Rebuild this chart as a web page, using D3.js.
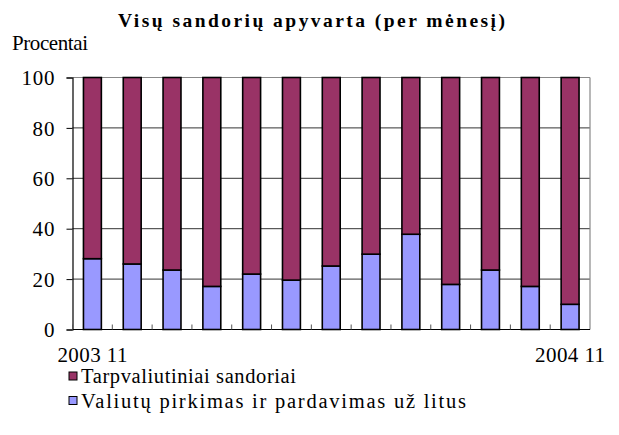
<!DOCTYPE html>
<html><head><meta charset="utf-8">
<script src="https://cdn.jsdelivr.net/npm/d3@7"></script>
<style>body{margin:0;background:#fff}svg{display:block}</style>
</head><body>
<script>
const months = ["2003 11","2003 12","2004 01","2004 02","2004 03","2004 04","2004 05","2004 06","2004 07","2004 08","2004 09","2004 10","2004 11"];
const valiutuPirkimas = [28.1, 26.0, 23.6, 17.1, 22.0, 19.6, 25.2, 29.9, 37.8, 17.9, 23.6, 17.1, 10.0];
const tarpvaliutiniai = valiutuPirkimas.map(v => 100 - v);
const yTicks = [0, 20, 40, 60, 80, 100];
const xLabels = ["2003 11", "2004 11"];
const seriesNames = ["Tarpvaliutiniai sandoriai", "Valiutų pirkimas ir pardavimas už litus"];
const colors = ["#993366", "#9999FF"];

(function () {
const FONT = "'Liberation Serif', 'Times New Roman', serif";
const W = 619, H = 435;
const svg = d3.select("body").append("svg").attr("width", W).attr("height", H)
  .attr("font-family", FONT);
const pL = 72.5, pR = 590, pT = 77.5, pB = 329.5;

const x = d3.scaleBand().domain(months).range([pL, pR]).paddingInner(0.55).paddingOuter(0.275);
const xb = d3.scaleBand().domain(months).range([pL, pR]);
const y = d3.scaleLinear().domain([0, 100]).range([pB, pT]);

// gridlines
svg.append("g").selectAll("line").data(yTicks.filter(t => t > 0 && t < 100)).join("line")
  .attr("x1", pL).attr("x2", pR).attr("y1", d => y(d)).attr("y2", d => y(d))
  .attr("stroke", "#333").attr("stroke-width", 1);
// top & right border
svg.append("line").attr("x1", pL).attr("x2", pR).attr("y1", y(100)).attr("y2", y(100)).attr("stroke", "#888").attr("stroke-width", 1.2);
svg.append("line").attr("x1", pR).attr("x2", pR).attr("y1", y(100)).attr("y2", y(0)).attr("stroke", "#888").attr("stroke-width", 1.2);

const stackData = months.map((m, i) => ({m, a: valiutuPirkimas[i], b: tarpvaliutiniai[i]}));
const stack = d3.stack().keys(["a", "b"])(stackData);
const layer = svg.append("g").selectAll("g").data(stack).join("g")
  .attr("fill", (d, i) => colors[1 - i]);
layer.selectAll("rect").data(d => d).join("rect")
  .attr("x", d => x(d.data.m)).attr("width", x.bandwidth())
  .attr("y", d => y(d[1])).attr("height", d => y(d[0]) - y(d[1]))
  .attr("stroke", "#000").attr("stroke-width", 1.6);

// y axis
const yAxis = d3.axisLeft(y).tickValues(yTicks).tickSize(6).tickPadding(12);
const gy = svg.append("g").attr("transform", `translate(${pL},0)`).call(yAxis);
gy.attr("font-family", FONT);
gy.select(".domain").attr("stroke", "#000").attr("stroke-width", 1.2);
gy.selectAll(".tick line").attr("stroke", "#000");
gy.selectAll("text").attr("font-size", 21).attr("fill", "#000").attr("dy", "0.34em")
  .attr("textLength", d => String(d).length * 11).attr("lengthAdjust", "spacing");

// x axis with ticks between categories
const gx = svg.append("g");
gx.append("line").attr("x1", pL).attr("x2", pR).attr("y1", pB).attr("y2", pB).attr("stroke", "#000").attr("stroke-width", 1.2);
gx.selectAll("line.t").data(months).join("line").attr("class", "t")
  .attr("x1", d => xb(d)).attr("x2", d => xb(d)).attr("y1", pB).attr("y2", pB - 5)
  .attr("stroke", "#555").attr("stroke-width", 1);
gx.selectAll("text").data(xLabels).join("text")
  .attr("x", d => xb(d) + xb.bandwidth() / 2).attr("y", 362)
  .attr("text-anchor", "middle").attr("font-size", 21)
  .attr("textLength", 70).attr("lengthAdjust", "spacing").text(d => d);

// title
svg.append("text").attr("x", 118).attr("y", 27)
  .attr("font-size", 19.5).attr("font-weight", "bold")
  .attr("textLength", 387).attr("lengthAdjust", "spacing")
  .text("Visų sandorių apyvarta (per mėnesį)");
svg.append("text").attr("x", 12).attr("y", 50).attr("font-size", 21)
  .attr("textLength", 76).attr("lengthAdjust", "spacing").text("Procentai");

// legend
const legendLen = [215, 385];
const lg = svg.append("g").selectAll("g").data(seriesNames).join("g")
  .attr("transform", (d, i) => `translate(69,${372 + i * 24.5})`);
lg.append("rect").attr("width", 8).attr("height", 8).attr("fill", (d, i) => colors[i]).attr("stroke", "#000").attr("stroke-width", 1);
lg.append("text").attr("x", 12).attr("y", 11).attr("font-size", 20.5)
  .attr("textLength", (d, i) => legendLen[i]).attr("lengthAdjust", "spacing").text(d => d);
})();
</script>
</body></html>
